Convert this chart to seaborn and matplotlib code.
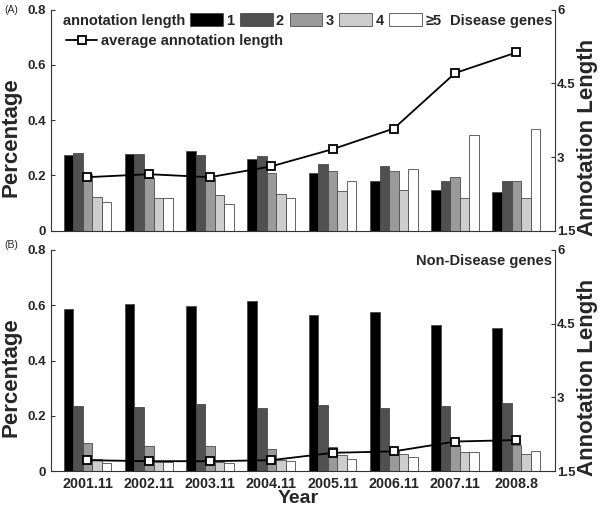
import numpy as np
import pandas as pd
import seaborn as sns
import matplotlib.pyplot as plt
from matplotlib.ticker import FormatStrFormatter

# === data ===
years = ['2001.11', '2002.11', '2003.11', '2004.11', '2005.11', '2006.11', '2007.11', '2008.8']
length_labels = ['1', '2', '3', '4', '\u22655']

# (A) disease genes: fraction of genes with annotation length 1..>=5
dis_len1 = [0.274, 0.277, 0.288, 0.258, 0.208, 0.179, 0.149, 0.140]
dis_len2 = [0.283, 0.277, 0.273, 0.269, 0.242, 0.233, 0.181, 0.181]
dis_len3 = [0.205, 0.192, 0.190, 0.210, 0.217, 0.215, 0.196, 0.181]
dis_len4 = [0.122, 0.120, 0.130, 0.132, 0.144, 0.146, 0.120, 0.120]
dis_len5 = [0.105, 0.117, 0.097, 0.120, 0.181, 0.222, 0.346, 0.369]
dis_avg = [2.59, 2.65, 2.59, 2.81, 3.16, 3.58, 4.71, 5.13]

# (B) non-disease genes
non_len1 = [0.588, 0.606, 0.599, 0.617, 0.565, 0.575, 0.530, 0.518]
non_len2 = [0.236, 0.230, 0.244, 0.229, 0.240, 0.228, 0.234, 0.246]
non_len3 = [0.100, 0.091, 0.092, 0.081, 0.088, 0.075, 0.093, 0.095]
non_len4 = [0.045, 0.034, 0.034, 0.040, 0.058, 0.061, 0.068, 0.061]
non_len5 = [0.028, 0.033, 0.028, 0.038, 0.045, 0.050, 0.068, 0.073]
non_avg = [1.72, 1.70, 1.70, 1.72, 1.87, 1.90, 2.10, 2.13]

bar_colors = ['#000000', '#505050', '#9a9a9a', '#cdcdcd', '#ffffff']

sns.set_style('ticks')
plt.rcParams['font.family'] = ['Liberation Sans', 'DejaVu Sans']
plt.rcParams['font.weight'] = 'bold'
plt.rcParams['axes.labelweight'] = 'bold'


def long_table(cols):
    rows = []
    for lab, vals in zip(length_labels, cols):
        for yr, v in zip(years, vals):
            rows.append((yr, lab, v))
    return pd.DataFrame(rows, columns=['Year', 'length', 'pct'])


W, H = 600, 507
fig = plt.figure(figsize=(W / 100, H / 100), dpi=100)


def box(l, t, r, b):
    return [l / W, 1 - b / H, (r - l) / W, (b - t) / H]


ax_top = fig.add_axes(box(51, 9.7, 555, 230.7))
ax_bot = fig.add_axes(box(51, 250, 555, 471))


def panel(ax, df, avg):
    sns.barplot(data=df, x='Year', y='pct', hue='length', order=years,
                hue_order=length_labels, palette=bar_colors, saturation=1,
                width=0.78, edgecolor='#4a4a4a', linewidth=0.6,
                errorbar=None, ax=ax)
    handles, labels = ax.get_legend_handles_labels()
    ax.get_legend().remove()

    ax2 = ax.twinx()
    line, = ax2.plot(years, avg, color='black', linewidth=1.3, marker='s',
                     markersize=5.5, markerfacecolor='white',
                     markeredgecolor='black', markeredgewidth=1.3)

    ax.set_xlim(-0.595, 7.63)
    ax.set_ylim(0, 0.8)
    ax.set_yticks([0, 0.2, 0.4, 0.6, 0.8])
    ax.yaxis.set_major_formatter(FormatStrFormatter('%g'))
    ax2.set_ylim(1.5, 6)
    ax2.set_yticks([1.5, 3, 4.5, 6])
    ax2.yaxis.set_major_formatter(FormatStrFormatter('%g'))

    for a in (ax, ax2):
        a.spines['top'].set_visible(False)
        for s in a.spines.values():
            s.set_color('#333333')
            s.set_linewidth(0.8)
    ax.spines['right'].set_visible(False)
    ax2.spines['left'].set_visible(False)
    ax2.spines['bottom'].set_visible(False)

    ax.tick_params(axis='y', direction='in', length=3, width=0.8,
                   color='#333333', labelsize=9.5, pad=3.5)
    ax.tick_params(axis='x', direction='in', length=3, width=0.8,
                   color='#333333', labelsize=10.3, pad=4)
    ax2.tick_params(axis='y', direction='in', length=3, width=0.8,
                    color='#333333', labelsize=9.5, pad=1.5)

    ax.set_ylabel('Percentage', fontsize=16, fontweight='bold')
    ax.yaxis.set_label_coords(-0.058, 0.423)
    ax2.set_ylabel('Annotation Length', fontsize=16, fontweight='bold')
    ax2.yaxis.set_label_coords(1.044, 0.423)
    return handles, line


handles, line = panel(ax_top, long_table([dis_len1, dis_len2, dis_len3, dis_len4, dis_len5]), dis_avg)
panel(ax_bot, long_table([non_len1, non_len2, non_len3, non_len4, non_len5]), non_avg)

ax_top.set_xlabel('')
ax_top.set_xticklabels([])
ax_bot.set_xlabel('Year', fontsize=14, fontweight='bold')
ax_bot.xaxis.set_label_coords(0.49, -0.084)

# legend rows in the top panel
fig.text(63 / W, 1 - 21 / H, 'annotation length', ha='left', va='center', fontsize=10.5)
fig.legend(handles, length_labels, ncol=5, loc='upper left',
           bbox_to_anchor=(190 / W, 1 - 13.5 / H), frameon=False,
           borderpad=0, borderaxespad=0, handlelength=2.26, handleheight=0.96,
           handletextpad=0.2, columnspacing=0.4, fontsize=10.5)
fig.legend([line], ['average annotation length'], loc='upper left',
           bbox_to_anchor=(66 / W, 1 - 34 / H), frameon=False,
           borderpad=0, borderaxespad=0, handlelength=2.15,
           handletextpad=0.25, fontsize=10.5)
fig.text(553 / W, 1 - 21 / H, 'Disease genes', ha='right', va='center', fontsize=10.5)
fig.text(552 / W, 1 - 261 / H, 'Non-Disease genes', ha='right', va='center', fontsize=10.5)

fig.text(4 / W, 1 - 10 / H, '(A)', ha='left', va='center', fontsize=7.5, fontweight='normal')
fig.text(4 / W, 1 - 245 / H, '(B)', ha='left', va='center', fontsize=7.5, fontweight='normal')

fig.savefig('out.png', dpi=100)
